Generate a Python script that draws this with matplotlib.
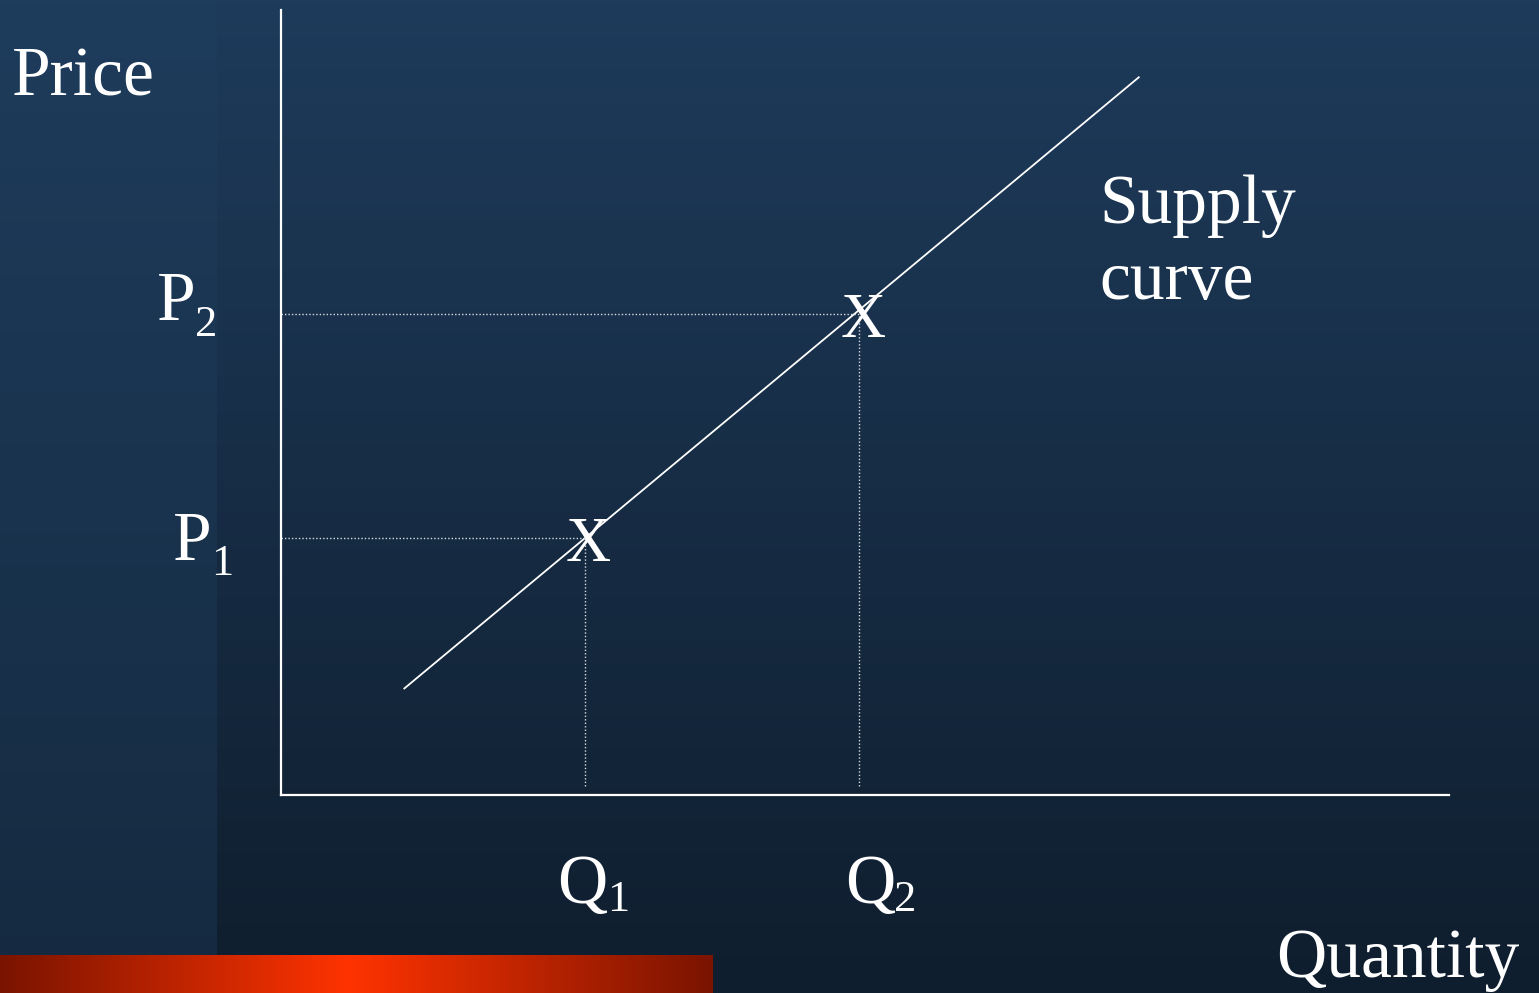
import numpy as np
import matplotlib
matplotlib.use("Agg")
import matplotlib.pyplot as plt

# ---- data ----
supply_q = [1.05, 7.35]
supply_p = [1.35, 9.15]
points_q = [2.6, 4.95]
points_p = [3.27, 6.13]
q_labels = ["1", "2"]
p_labels = ["1", "2"]

W, H = 1539, 993
fig = plt.figure(figsize=(W / 100, H / 100), dpi=100)

# background
bg = fig.add_axes([0, 0, 1, 1])
bg.set_xlim(0, W)
bg.set_ylim(H, 0)
bg.axis("off")
top = np.array([0x1e, 0x3b, 0x5b]) / 255
bot = np.array([0x0f, 0x1e, 0x2e]) / 255
t = np.linspace(0, 1, 256)[:, None]
grad = top[None, :] * (1 - t) + bot[None, :] * t
bg.imshow(grad[:, None, :].repeat(2, axis=1), extent=[0, W, H, 0], aspect="auto", zorder=0)
ltop = np.array([0x1e, 0x3c, 0x5c]) / 255
lbot = np.array([0x15, 0x2a, 0x40]) / 255
lgrad = ltop[None, :] * (1 - t) + lbot[None, :] * t
bg.imshow(lgrad[:, None, :].repeat(2, axis=1), extent=[0, 217, H, 0], aspect="auto", zorder=1)
# red bar
xs = np.linspace(0, 713, 400)
peak = 349
d = np.where(xs < peak, (peak - xs) / peak, (xs - peak) / (713 - peak))
dark = np.array([0x7a, 0x14, 0x00]) / 255
bright = np.array([0xff, 0x33, 0x00]) / 255
dd = d[:, None]
bar = bright[None, :] * (1 - dd) + dark[None, :] * dd
bg.imshow(bar[None, :, :].repeat(2, axis=0), extent=[0, 713, 993, 955], aspect="auto", zorder=2)

# data axes
ax_l, ax_r, ax_t, ax_b = 281, 1449, 10, 795
ax = fig.add_axes([ax_l / W, (H - ax_b) / H, (ax_r - ax_l) / W, (ax_b - ax_t) / H])
ax.patch.set_alpha(0)
ax.set_xlim(0, 10)
ax.set_ylim(0, 10)
for s in ["top", "right"]:
    ax.spines[s].set_visible(False)
for s in ["left", "bottom"]:
    ax.spines[s].set_color("white")
    ax.spines[s].set_linewidth(1.6)
ax.set_xticks([])
ax.set_yticks([])

ax.plot(supply_q, supply_p, color="white", lw=1.3, solid_capstyle="butt")
for q, p in zip(points_q, points_p):
    ax.plot([0, q], [p, p], color="#d8dde4", lw=1.0, ls=(0, (1, 1.5)))
    ax.plot([q, q], [0.12, p], color="#d8dde4", lw=1.0, ls=(0, (1, 1.5)))
    ax.annotate("X", xy=(q, p), xytext=(4, -23), textcoords="offset pixels",
                color="white", fontsize=45, family="Liberation Serif",
                ha="center", va="baseline")

font = dict(color="white", family="Liberation Serif")
big = 50
small = 32
fig.text(12 / W, 1 - 95 / H, "Price", fontsize=big, va="baseline", ha="left", **font)
fig.text(1276 / W, 1 - 977 / H, "Quantity", fontsize=big, va="baseline", ha="left", **font)
fig.text(1099 / W, 1 - 223 / H, "Supply", fontsize=big, va="baseline", ha="left", **font)
fig.text(1099 / W, 1 - 299 / H, "curve", fontsize=big, va="baseline", ha="left", **font)

# P labels
p_pos = [(173, 560, 211, 575), (157, 320, 195, 336)]
for lab, (x1, y1, x2, y2) in zip(p_labels, p_pos):
    fig.text(x1 / W, 1 - y1 / H, "P", fontsize=big, va="baseline", ha="left", **font)
    fig.text(x2 / W, 1 - y2 / H, lab, fontsize=small, va="baseline", ha="left", **font)
# Q labels
q_pos = [(557, 903, 607, 911), (845, 903, 894, 911)]
for lab, (x1, y1, x2, y2) in zip(q_labels, q_pos):
    fig.text(x1 / W, 1 - y1 / H, "Q", fontsize=big, va="baseline", ha="left", **font)
    fig.text(x2 / W, 1 - y2 / H, lab, fontsize=small, va="baseline", ha="left", **font)

fig.savefig("out.png", dpi=100)
